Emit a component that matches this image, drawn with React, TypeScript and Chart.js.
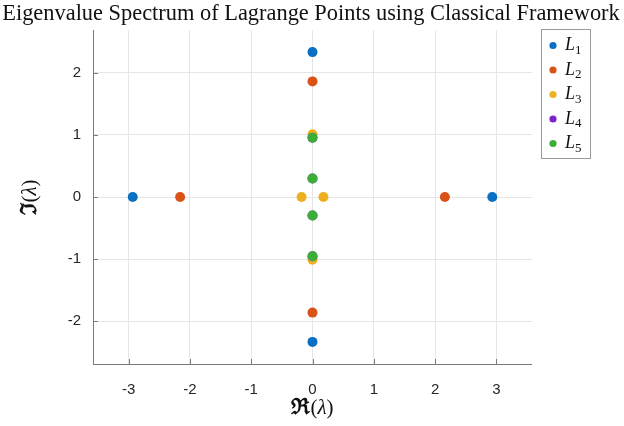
import React, { useEffect, useRef } from "react";
import { Chart, registerables } from "chart.js";

Chart.register(...registerables);

const TITLE = "Eigenvalue Spectrum of Lagrange Points using Classical Framework";
const X_LABEL = ["ℜ", "(", "λ", ")"];
const Y_LABEL = ["ℑ", "(", "λ", ")"];

const seriesNames = ["L1", "L2", "L3", "L4", "L5"];
const seriesColors = ["#0a70c4", "#d95319", "#edb120", "#7e22cc", "#3cae38"];

const L1_re = [-2.932, 2.932, 0, 0];
const L1_im = [0, 0, 2.334, -2.334];
const L2_re = [-2.159, 2.159, 0, 0];
const L2_im = [0, 0, 1.862, -1.862];
const L3_re = [-0.178, 0.178, 0, 0];
const L3_im = [0, 0, 1.010, -1.010];
const L4_re = [0, 0, 0, 0];
const L4_im = [0.955, -0.955, 0.298, -0.298];
const L5_re = [0, 0, 0, 0];
const L5_im = [0.955, -0.955, 0.298, -0.298];

const xTicks = [-3, -2, -1, 0, 1, 2, 3];
const yTicks = [-2, -1, 0, 1, 2];

const allRe = [L1_re, L2_re, L3_re, L4_re, L5_re];
const allIm = [L1_im, L2_im, L3_im, L4_im, L5_im];

const SERIF = "'Liberation Serif', 'DejaVu Serif', serif";
const SANS = "'Liberation Sans', Arial, sans-serif";

function drawMath(ctx: any, parts: string[], cx: number, cy: number) {
  const fonts = [`bold 22px 'DejaVu Serif', serif`, `21px ${SERIF}`, `italic 21px ${SERIF}`, `21px ${SERIF}`];
  let total = 0;
  const widths = parts.map((p, i) => {
    ctx.font = fonts[i];
    const w = ctx.measureText(p).width;
    total += w;
    return w;
  });
  let x = cx - total / 2;
  ctx.textAlign = "left";
  parts.forEach((p, i) => {
    ctx.font = fonts[i];
    ctx.fillText(p, x, cy);
    x += widths[i];
  });
}

const decorPlugin = {
  id: "decor",
  afterDatasetsDraw(chart: any) {
    const ctx = chart.ctx;
    const area = chart.chartArea;
    const xs = chart.scales.x;
    const ys = chart.scales.y;
    ctx.save();
    ctx.strokeStyle = "#7a7a7a";
    ctx.lineWidth = 1;
    ctx.beginPath();
    ctx.moveTo(Math.round(area.left) + 0.5, area.top);
    ctx.lineTo(Math.round(area.left) + 0.5, area.bottom);
    ctx.moveTo(area.left, Math.round(area.bottom) + 0.5);
    ctx.lineTo(area.right, Math.round(area.bottom) + 0.5);
    xTicks.forEach((v) => {
      const px = Math.round(xs.getPixelForValue(v)) + 0.5;
      ctx.moveTo(px, area.bottom);
      ctx.lineTo(px, area.bottom - 5);
    });
    yTicks.forEach((v) => {
      const py = Math.round(ys.getPixelForValue(v)) + 0.5;
      ctx.moveTo(area.left, py);
      ctx.lineTo(area.left + 5, py);
    });
    ctx.stroke();

    ctx.fillStyle = "#111";
    ctx.textAlign = "center";
    ctx.textBaseline = "middle";
    ctx.font = `20px ${SERIF}`;
    const w = ctx.measureText(TITLE).width;
    const size = (20 * 618) / w;
    ctx.font = `${size}px ${SERIF}`;
    ctx.fillText(TITLE, 311, 14);

    drawMath(ctx, X_LABEL, (area.left + area.right) / 2, 408);
    ctx.save();
    ctx.translate(30, (area.top + area.bottom) / 2);
    ctx.rotate(-Math.PI / 2);
    drawMath(ctx, Y_LABEL, 0, 0);
    ctx.restore();

    const lx = 541.5, ly = 29.5, lw = 49, lh = 129;
    ctx.fillStyle = "#fff";
    ctx.fillRect(lx, ly, lw, lh);
    ctx.strokeStyle = "#999";
    ctx.strokeRect(lx, ly, lw, lh);
    chart.data.datasets.forEach((ds: any, i: number) => {
      const cy = 45.5 + i * 24.5;
      ctx.fillStyle = ds.backgroundColor;
      ctx.beginPath();
      ctx.arc(553, cy, 3.6, 0, Math.PI * 2);
      ctx.fill();
      ctx.fillStyle = "#111";
      ctx.textAlign = "left";
      ctx.textBaseline = "middle";
      ctx.font = `italic 18px ${SERIF}`;
      const name = ds.label as string;
      ctx.fillText(name.charAt(0), 565, cy);
      const lw2 = ctx.measureText(name.charAt(0)).width;
      ctx.font = `13px ${SERIF}`;
      ctx.fillText(name.slice(1), 565 + lw2, cy + 5);
    });
    ctx.restore();
  },
};

export default function App() {
  const ref = useRef<HTMLCanvasElement>(null);
  useEffect(() => {
    document.body.style.margin = "0";
    const canvas = ref.current!;
    const datasets = seriesNames.map((name, i) => ({
      label: name,
      data: allRe[i].map((re, j) => ({ x: re, y: allIm[i][j] })),
      backgroundColor: seriesColors[i],
      borderColor: seriesColors[i],
      pointRadius: 5,
      pointBorderWidth: 0,
      order: 5 - i,
    }));
    const chart = new Chart(canvas, {
      type: "scatter",
      data: { datasets },
      options: {
        responsive: false,
        animation: false,
        layout: { padding: { left: 0, top: 30, right: 92, bottom: 0 } },
        plugins: { legend: { display: false }, title: { display: false }, tooltip: { enabled: false } },
        scales: {
          x: {
            type: "linear",
            min: -3.58,
            max: 3.58,
            border: { display: false },
            grid: { color: "#e6e6e6", drawTicks: false },
            afterBuildTicks: (s: any) => {
              s.ticks = xTicks.map((v) => ({ value: v }));
            },
            afterFit: (s: any) => {
              s.height = 62;
            },
            ticks: {
              padding: 17,
              color: "#262626",
              font: { family: SANS, size: 15 },
              callback: (v: any) => String(v),
            },
          },
          y: {
            type: "linear",
            min: -2.69,
            max: 2.69,
            border: { display: false },
            grid: { color: "#e6e6e6", drawTicks: false },
            afterBuildTicks: (s: any) => {
              s.ticks = yTicks.map((v) => ({ value: v }));
            },
            afterFit: (s: any) => {
              s.width = 93;
            },
            ticks: {
              padding: 12,
              color: "#262626",
              font: { family: SANS, size: 15 },
              callback: (v: any) => String(v),
            },
          },
        },
      },
      plugins: [decorPlugin],
    });
    return () => chart.destroy();
  }, []);
  return <canvas ref={ref} width={624} height={426} style={{ display: "block" }} />;
}
